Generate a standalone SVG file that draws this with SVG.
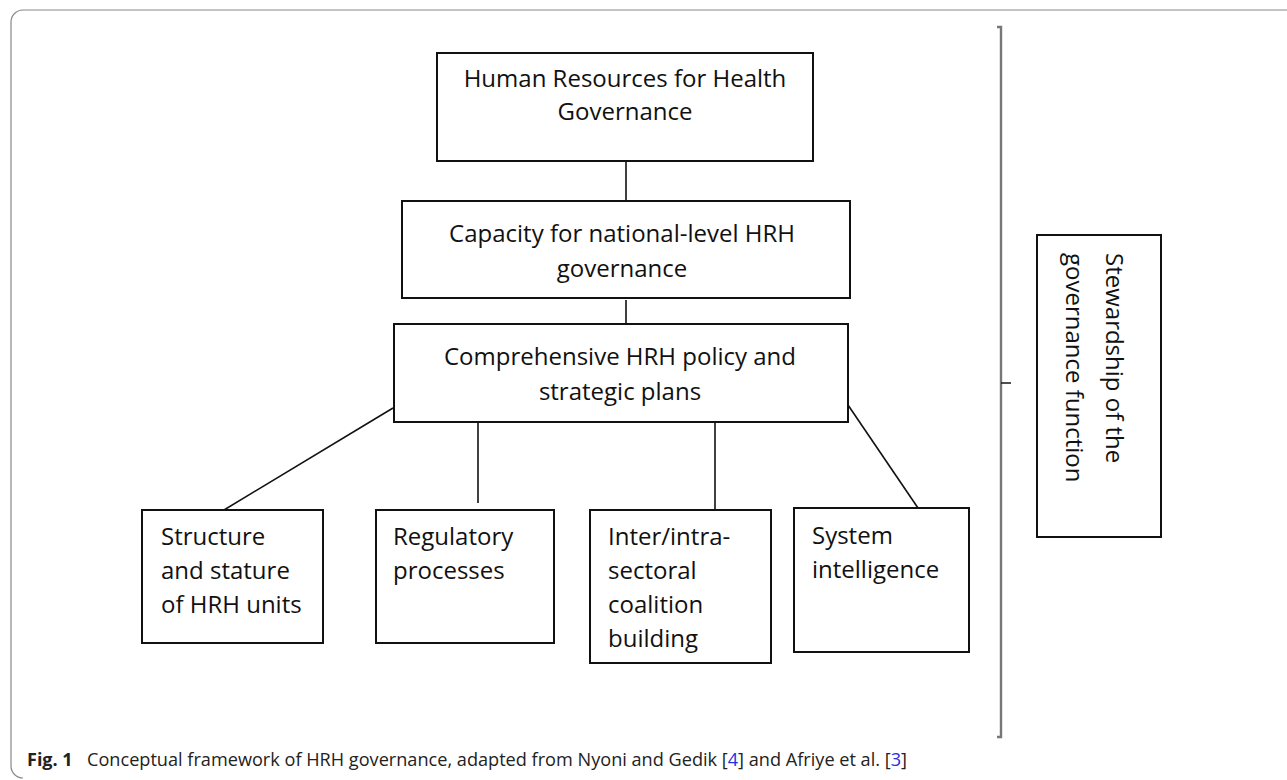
<svg xmlns="http://www.w3.org/2000/svg" width="1287" height="780" viewBox="0 0 1287 780">
<style>
.box{fill:#fff;stroke:#111;stroke-width:2}
.t{font-family:"Open Sans","Liberation Sans",sans-serif;font-size:24px;fill:#111}
.c{text-anchor:middle}
.conn line{stroke:#111;stroke-width:1.6}
.cap{font-family:"Open Sans","Liberation Sans",sans-serif;font-size:18px;fill:#222}
</style>
<rect width="1287" height="780" fill="#fff"/>
<path d="M1290,10 H23 A12,12 0 0 0 11,22 V766 A12,12 0 0 0 23,778" fill="none" stroke="#888" stroke-width="1.2"/>
<g id="connectors" class="conn">
<line x1="626" y1="161" x2="626" y2="201"/>
<line x1="626" y1="300" x2="626" y2="324"/>
<line x1="393" y1="408" x2="224" y2="510"/>
<line x1="478" y1="422" x2="478" y2="503"/>
<line x1="715" y1="422" x2="715" y2="510"/>
<line x1="848" y1="405" x2="918" y2="508"/>
</g>
<g id="bracket" fill="none" stroke="#777" stroke-width="2.4">
<path d="M997,27 H1001 V737 H997"/>
<path d="M1001,383 H1011" stroke="#222" stroke-width="1.6"/>
</g>
<g id="hrh-governance">
<rect class="box" x="437" y="53" width="376" height="108"/>
<text class="t c" x="625" y="87">Human Resources for Health</text>
<text class="t c" x="625" y="120">Governance</text>
</g>
<g id="capacity">
<rect class="box" x="402" y="201" width="448" height="97"/>
<text class="t c" x="622" y="242">Capacity for national-level HRH</text>
<text class="t c" x="622" y="277">governance</text>
</g>
<g id="policy">
<rect class="box" x="394" y="324" width="454" height="98"/>
<text class="t c" x="620" y="365">Comprehensive HRH policy and</text>
<text class="t c" x="620" y="400">strategic plans</text>
</g>
<g id="structure">
<rect class="box" x="142" y="510" width="181" height="133"/>
<text class="t" x="161" y="545">Structure</text>
<text class="t" x="161" y="579">and stature</text>
<text class="t" x="161" y="613">of HRH units</text>
</g>
<g id="regulatory">
<rect class="box" x="376" y="510" width="178" height="133"/>
<text class="t" x="393" y="545">Regulatory</text>
<text class="t" x="393" y="579">processes</text>
</g>
<g id="coalition">
<rect class="box" x="590" y="510" width="181" height="153"/>
<text class="t" x="608" y="545">Inter/intra-</text>
<text class="t" x="608" y="579">sectoral</text>
<text class="t" x="608" y="613">coalition</text>
<text class="t" x="608" y="647">building</text>
</g>
<g id="intelligence">
<rect class="box" x="794" y="508" width="175" height="144"/>
<text class="t" x="812" y="544">System</text>
<text class="t" x="812" y="578">intelligence</text>
</g>
<g id="stewardship">
<rect class="box" x="1037" y="235" width="124" height="302"/>
<text class="t" transform="translate(1106,253) rotate(90)">Stewardship of the</text>
<text class="t" transform="translate(1066,253) rotate(90)">governance function</text>
</g>
<g id="caption">
<text class="cap" x="27" y="766" font-weight="bold" font-size="19" fill="#111">Fig. 1</text>
<text class="cap" x="87" y="766" textLength="820" lengthAdjust="spacingAndGlyphs">Conceptual framework of HRH governance, adapted from Nyoni and Gedik [<tspan fill="#2233dd">4</tspan>] and Afriye et al. [<tspan fill="#2233dd">3</tspan>]</text>
</g>
</svg>
